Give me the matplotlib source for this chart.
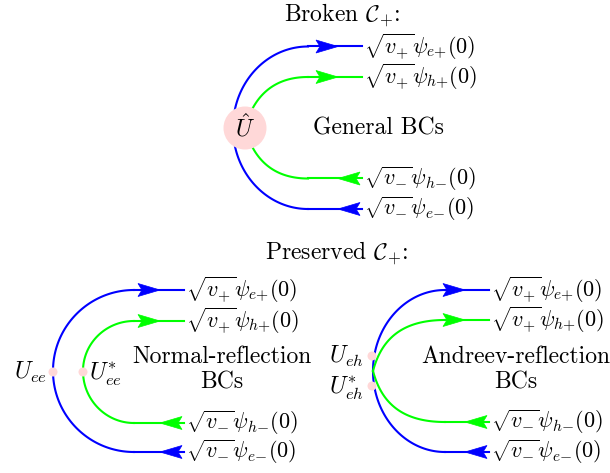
import numpy as np
import matplotlib.pyplot as plt
from matplotlib.patches import Polygon, Circle

plt.rcParams['mathtext.fontset'] = 'cm'
plt.rcParams['font.family'] = 'serif'
plt.rcParams['font.serif'] = ['cmr10']
plt.rcParams['axes.unicode_minus'] = False

# channel labels, colours and directions (top to bottom)
chan_labels = [r'$\sqrt{v_{{+}}}\psi_{e{+}}(0)$', r'$\sqrt{v_{{+}}}\psi_{h{+}}(0)$',
               r'$\sqrt{v_{{-}}}\psi_{h{-}}(0)$', r'$\sqrt{v_{{-}}}\psi_{e{-}}(0)$']
chan_colors = ['#0000ff', '#00ff00', '#00ff00', '#0000ff']
chan_dir = [1, 1, -1, -1]

panel_names = ['general', 'normal', 'andreev']
panel_titles = [r'Broken $\mathcal{C}_{{+}}$:', r'Preserved $\mathcal{C}_{{+}}$:']
panel_texts = ['General BCs', 'Normal-reflection\nBCs', 'Andreev-reflection\nBCs']

# layout in pixels
W, H = 610, 473
ys = {'general': [46.5, 77, 178.5, 209], 'normal': [290, 321, 423, 452],
      'andreev': [290, 320, 422, 452]}
x_left = {'general': 233, 'normal': 53, 'andreev': 373}
x_bend = {'general': 308, 'normal': 134, 'andreev': 445}
x_end = {'general': 362, 'normal': 184, 'andreev': 489}

K = 0.5523
FS = 17      # plain text
FL = 16      # channel labels


def bez(p0, p1, p2, p3, n=80):
    t = np.linspace(0, 1, n)[:, None]
    p0, p1, p2, p3 = map(np.array, (p0, p1, p2, p3))
    pts = (1-t)**3*p0 + 3*(1-t)**2*t*p1 + 3*(1-t)*t**2*p2 + t**3*p3
    return pts[:, 0], pts[:, 1]


def arrow(ax, x, y, d, c, L=22, hw=6.5):
    pts = [(x, y), (x - d*L, y - hw), (x - d*0.82*L, y), (x - d*L, y + hw)]
    ax.add_patch(Polygon(pts, closed=True, fc=c, ec=c, lw=0.5, zorder=4))


def quarter(ax, xl, yc, xb, yt, c):
    x, y = bez((xl, yc), (xl, yc - K*(yc - yt)), (xb - K*(xb - xl), yt), (xb, yt))
    ax.plot(x, y, color=c, lw=1.5, zorder=2)


fig = plt.figure(figsize=(W/100, H/100), dpi=100)
ax = fig.add_axes([0, 0, 1, 1])
ax.set_xlim(0, W)
ax.set_ylim(H, 0)
ax.axis('off')

pink = '#ffd8d8'
lw = 1.5

for name in panel_names:
    y = ys[name]
    xl, xb, xe = x_left[name], x_bend[name], x_end[name]
    yc = (y[0] + y[3]) / 2
    # blue outer arc
    quarter(ax, xl, yc, xb, y[0], chan_colors[0])
    quarter(ax, xl, yc, xb, y[3], chan_colors[3])
    # green inner curves
    if name == 'normal':
        xg = 83
        quarter(ax, xg, yc, xb, y[1], chan_colors[1])
        quarter(ax, xg, yc, xb, y[2], chan_colors[2])
    else:
        x0 = 245 if name == 'general' else xl
        y0 = 128 if name == 'general' else yc
        for k in (1, 2):
            s = -1 if k == 1 else 1
            gx, gy = bez((x0, y0), (x0 + 8, y0 + s*30), (x0 + 27, y[k]), (xb, y[k]))
            ax.plot(gx, gy, color=chan_colors[k], lw=lw, zorder=2)
    for k in range(4):
        ax.plot([xb, xe], [y[k], y[k]], color=chan_colors[k], lw=lw, zorder=2)
        arrow(ax, xe - 24, y[k], chan_dir[k], chan_colors[k])
        ax.text(xe + 2, y[k], chan_labels[k], fontsize=FL, ha='left', va='center')

# boundary-condition markers
ax.add_patch(Circle((245, 128), 21.5, fc=pink, ec='none', zorder=3))
ax.text(245, 128, r'$\hat{U}$', fontsize=FS, ha='center', va='center', zorder=5)

ax.add_patch(Circle((53, 372), 4.5, fc=pink, ec='none', zorder=3))
ax.add_patch(Circle((83, 372), 4.5, fc=pink, ec='none', zorder=3))
ax.text(47, 372, r'$U_{ee}$', fontsize=FS, ha='right', va='center')
ax.text(89, 374, r'$U_{ee}^{*}$', fontsize=FS, ha='left', va='center')

ax.add_patch(Circle((372, 356), 4.5, fc=pink, ec='none', zorder=3))
ax.add_patch(Circle((372, 386), 4.5, fc=pink, ec='none', zorder=3))
ax.text(364, 356, r'$U_{eh}$', fontsize=FS, ha='right', va='center')
ax.text(364, 388, r'$U_{eh}^{*}$', fontsize=FS, ha='right', va='center')

ax.text(342, 15, panel_titles[0], fontsize=FS, ha='center', va='center')
ax.text(337, 253, panel_titles[1], fontsize=FS, ha='center', va='center')
ax.text(378, 128, panel_texts[0], fontsize=FS, ha='center', va='center')
ax.text(222, 370, panel_texts[1], fontsize=FS, ha='center', va='center', linespacing=1.2)
ax.text(516, 370, panel_texts[2], fontsize=FS, ha='center', va='center', linespacing=1.2)

fig.savefig('out.png', dpi=100)
